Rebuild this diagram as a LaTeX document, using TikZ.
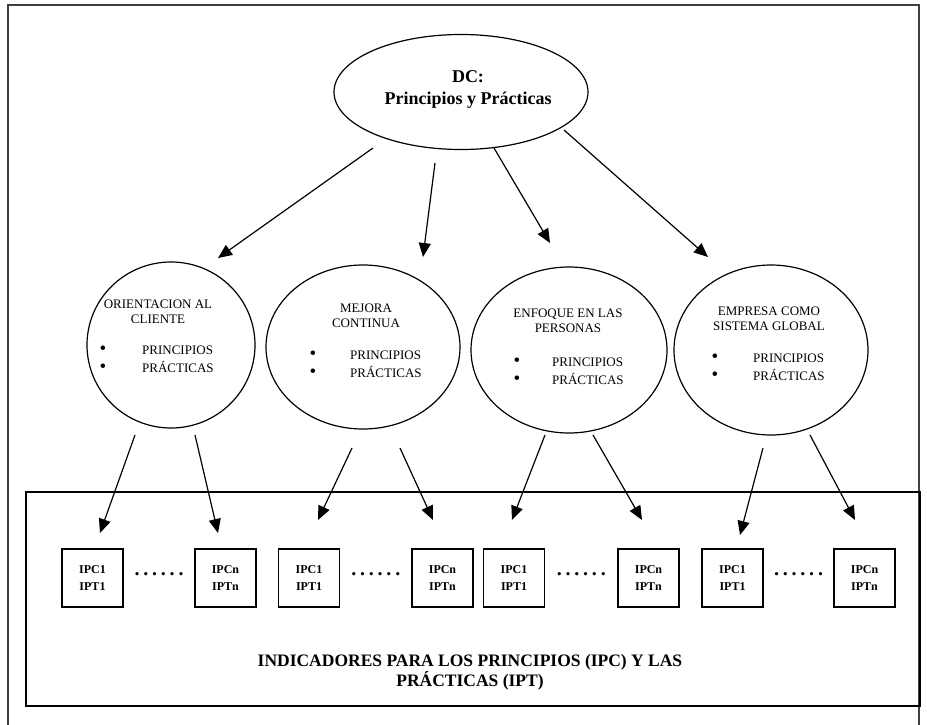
\documentclass[tikz,border=0pt]{standalone}
\usepackage{fontspec}
\setmainfont{Liberation Serif}
\usetikzlibrary{arrows.meta,shapes.geometric,calc}
\begin{document}
\begin{tikzpicture}[x=1pt,y=-1pt,
  oval/.style={draw, ellipse, line width=1.2pt, inner sep=0pt},
  conn/.style={line width=1.2pt, -{Triangle[length=14pt,width=12pt]}},
  ind/.style={draw, line width=1.2pt, minimum width=61pt, minimum height=58pt, inner sep=0pt,
    font=\fontsize{12}{17}\selectfont\bfseries, align=center},
  ttl/.style={font=\fontsize{13}{15}\selectfont, align=center, inner sep=0pt},
  itm/.style={font=\fontsize{13}{18}\selectfont, align=left, inner sep=0pt, anchor=west},
  bul/.style={font=\fontsize{19}{18}\selectfont, align=center, inner sep=0pt},
  dotrow/.style={font=\fontsize{20}{20}\selectfont\bfseries, inner sep=0pt}]
\useasboundingbox (0,0) rectangle (927,725);
% outer frame
\draw[line width=1.6pt, black!75] (8,726) -- (8,5) -- (919,5) -- (919,726);
% panel
\node[draw, line width=1.2pt, minimum width=894pt, minimum height=214pt, inner sep=0pt] (panel) at (473,599) {};
% top ellipse
\node[oval, minimum width=254pt, minimum height=115pt] (dc) at (461,92) {};
\node[font=\fontsize{18}{22}\selectfont\bfseries, align=center, inner sep=0pt] (dct) at (468,89) {DC:\\Principios y Prácticas};
% second row
\node[oval, minimum width=168pt, minimum height=166pt] (e1) at (171,345) {};
\node[oval, minimum width=194pt, minimum height=164pt] (e2) at (363,347) {};
\node[oval, minimum width=196pt, minimum height=166pt] (e3) at (569,350) {};
\node[oval, minimum width=194pt, minimum height=170pt] (e4) at (771,350) {};
\node[ttl] (t1) at (158,311.5) {ORIENTACION AL\\CLIENTE};
\node[ttl] (t2) at (366,315.5) {MEJORA\\CONTINUA};
\node[ttl] (t3) at (568,320.5) {ENFOQUE EN LAS\\PERSONAS};
\node[ttl] (t4) at (769,318.5) {EMPRESA COMO\\SISTEMA GLOBAL};
\node[bul] (b1) at (103,359) {\textbullet\\\textbullet};
\node[bul] (b2) at (313,364) {\textbullet\\\textbullet};
\node[bul] (b3) at (517,371) {\textbullet\\\textbullet};
\node[bul] (b4) at (715,367.5) {\textbullet\\\textbullet};
\node[itm] (i1) at (142,359) {PRINCIPIOS\\PRÁCTICAS};
\node[itm] (i2) at (350,364) {PRINCIPIOS\\PRÁCTICAS};
\node[itm] (i3) at (552,371) {PRINCIPIOS\\PRÁCTICAS};
\node[itm] (i4) at (753,367.5) {PRINCIPIOS\\PRÁCTICAS};
% indicator boxes
\node[ind] (p11) at (92.5,578) {IPC1\\IPT1};
\node[ind] (p1n) at (225.5,578) {IPCn\\IPTn};
\node[ind] (p21) at (309,578) {IPC1\\IPT1};
\node[ind] (p2n) at (442.5,578) {IPCn\\IPTn};
\node[ind] (p31) at (514,578) {IPC1\\IPT1};
\node[ind] (p3n) at (648.5,578) {IPCn\\IPTn};
\node[ind] (p41) at (732.5,578) {IPC1\\IPT1};
\node[ind] (p4n) at (864.5,578) {IPCn\\IPTn};
\foreach \a/\b in {p11/p1n,p21/p2n,p31/p3n,p41/p4n}
  \node[dotrow] at ($(\a)!0.5!(\b)+(0,-4)$) {.\kern3.8pt.\kern3.8pt.\kern3.8pt.\kern3.8pt.\kern3.8pt.};
\node[font=\fontsize{17.5}{18}\selectfont\bfseries, align=center, inner sep=0pt] (cap) at (470,672)
  {INDICADORES PARA LOS PRINCIPIOS (IPC) Y LAS\\PRÁCTICAS (IPT)};
% connector end points
\coordinate (s1) at (373,148); \coordinate (d1) at (218,258);
\coordinate (s2) at (435,163); \coordinate (d2) at (423,257);
\coordinate (s3) at (494,148); \coordinate (d3) at (550,243);
\coordinate (s4) at (564,130); \coordinate (d4) at (708,257);
\draw[conn] (s1) -- (d1);
\draw[conn] (s2) -- (d2);
\draw[conn] (s3) -- (d3);
\draw[conn] (s4) -- (d4);
\coordinate (u1) at (135,435); \coordinate (v1) at (100,533);
\coordinate (u2) at (195,435); \coordinate (v2) at (218,533);
\coordinate (u3) at (352,448); \coordinate (v3) at (318,520);
\coordinate (u4) at (400,448); \coordinate (v4) at (433,520);
\coordinate (u5) at (545,435); \coordinate (v5) at (512,520);
\coordinate (u6) at (593,435); \coordinate (v6) at (642,520);
\coordinate (u7) at (763,448); \coordinate (v7) at (740,535);
\coordinate (u8) at (810,435); \coordinate (v8) at (855,520);
\foreach \i in {1,...,8} \draw[conn] (u\i) -- (v\i);
\end{tikzpicture}
\end{document}
